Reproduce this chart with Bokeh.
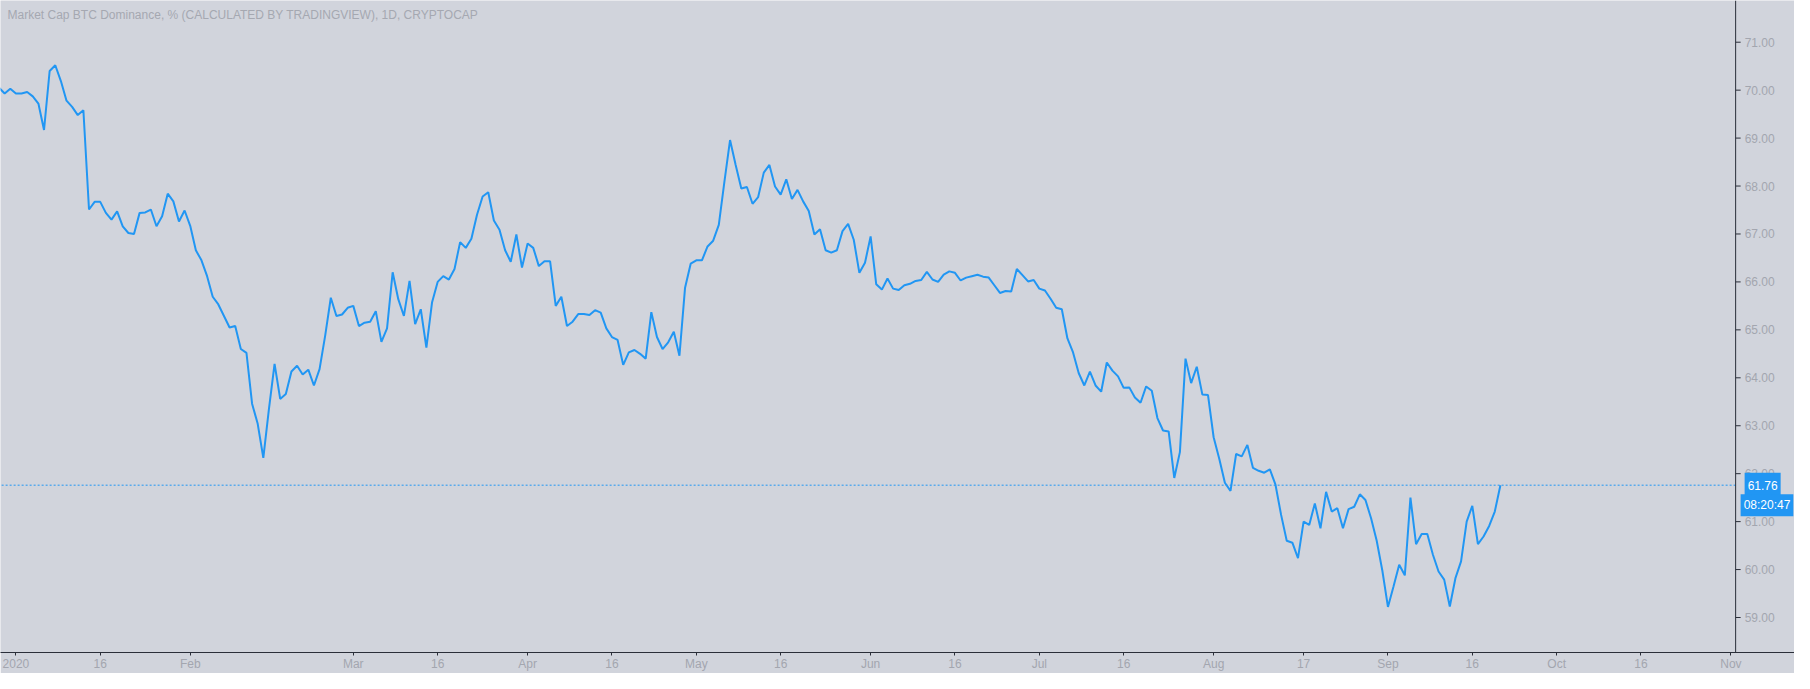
import math
import pandas as pd
from bokeh.plotting import figure
from bokeh.models import Range1d, FixedTicker, Span, Label
from bokeh.core.properties import value
from bokeh.embed import file_html
from bokeh.resources import INLINE

# ---------------- data ----------------
title_text = "Market Cap BTC Dominance, % (CALCULATED BY TRADINGVIEW), 1D, CRYPTOCAP"
start_date = "2019-12-29"

dec_2019 = [70.05, 69.93, 70.03]
jan = [69.93, 69.93, 69.96, 69.87, 69.72, 69.17, 70.40, 70.52, 70.19, 69.78,
       69.65, 69.48, 69.58, 67.51, 67.67, 67.67, 67.44, 67.30, 67.47, 67.16,
       67.02, 67.00, 67.44, 67.45, 67.51, 67.16, 67.37, 67.84, 67.68, 67.26,
       67.49]
feb = [67.17, 66.66, 66.45, 66.12, 65.69, 65.53, 65.29, 65.05, 65.08, 64.60,
       64.52, 63.46, 63.04, 62.33, 63.35, 64.29, 63.56, 63.66, 64.13, 64.25,
       64.07, 64.17, 63.84, 64.18, 64.88, 65.67, 65.29, 65.32, 65.46]
mar = [65.50, 65.08, 65.15, 65.17, 65.39, 64.75, 65.03, 66.20, 65.64, 65.29,
       66.02, 65.12, 65.43, 64.63, 65.57, 66.00, 66.12, 66.05, 66.27, 66.83,
       66.71, 66.90, 67.40, 67.78, 67.87, 67.28, 67.09, 66.66, 66.42, 66.99,
       66.30]
apr = [66.80, 66.71, 66.33, 66.43, 66.43, 65.50, 65.69, 65.08, 65.17, 65.33,
       65.33, 65.31, 65.41, 65.36, 65.03, 64.85, 64.79, 64.27, 64.53, 64.58,
       64.50, 64.40, 65.37, 64.85, 64.60, 64.74, 64.96, 64.46, 65.88, 66.38]
may = [66.45, 66.45, 66.74, 66.86, 67.19, 68.09, 68.96, 68.44, 67.95, 67.98,
       67.63, 67.77, 68.28, 68.44, 67.99, 67.82, 68.14, 67.73, 67.92, 67.68,
       67.48, 66.99, 67.10, 66.66, 66.61, 66.66, 67.06, 67.21, 66.88, 66.19,
       66.40]
jun = [66.95, 65.95, 65.84, 66.07, 65.86, 65.83, 65.93, 65.96, 66.02, 66.04,
       66.21, 66.05, 66.00, 66.15, 66.22, 66.19, 66.03, 66.09, 66.12, 66.15,
       66.11, 66.09, 65.93, 65.77, 65.81, 65.80, 66.27, 66.14, 66.01, 66.04]
jul = [65.86, 65.82, 65.65, 65.46, 65.43, 64.82, 64.53, 64.10, 63.84, 64.13,
       63.84, 63.71, 64.32, 64.15, 64.03, 63.79, 63.80, 63.59, 63.48, 63.82,
       63.73, 63.16, 62.90, 62.88, 61.91, 62.45, 64.40, 63.89, 64.23, 63.65,
       63.64]
aug = [62.76, 62.31, 61.81, 61.64, 62.41, 62.36, 62.60, 62.12, 62.06, 62.02,
       62.09, 61.77, 61.14, 60.60, 60.56, 60.24, 61.00, 60.93, 61.38, 60.86,
       61.62, 61.21, 61.28, 60.86, 61.26, 61.31, 61.57, 61.45, 61.07, 60.60,
       59.98]
sep = [59.22, 59.65, 60.10, 59.88, 61.50, 60.53, 60.74, 60.74, 60.31, 59.96,
       59.79, 59.23, 59.82, 60.17, 61.00, 61.33, 60.53, 60.69, 60.91, 61.21,
       61.76]

values = dec_2019 + jan + feb + mar + apr + may + jun + jul + aug + sep
countdown_text = "08:20:47"

tick_dates = ["2020-01-01", "2020-01-16", "2020-02-01", "2020-03-01", "2020-03-16",
              "2020-04-01", "2020-04-16", "2020-05-01", "2020-05-16", "2020-06-01",
              "2020-06-16", "2020-07-01", "2020-07-16", "2020-08-01", "2020-08-17",
              "2020-09-01", "2020-09-16", "2020-10-01", "2020-10-16", "2020-11-01"]
tick_labels = ["2020", "16", "Feb", "Mar", "16", "Apr", "16", "May", "16", "Jun",
               "16", "Jul", "16", "Aug", "17", "Sep", "16", "Oct", "16", "Nov"]
y_ticks = [59, 60, 61, 62, 63, 64, 65, 66, 67, 68, 69, 70, 71]
y_tick_labels = [f"{t:.2f}" for t in y_ticks]

# ---------------- build ----------------
origin = pd.Timestamp("2020-01-01")
dates = pd.date_range(start_date, periods=len(values), freq="D")
xs = [int((d - origin).days) for d in dates]
tick_x = [int((pd.Timestamp(t) - origin).days) for t in tick_dates]

BG = "#d1d4dc"
BLUE = "#2196f3"
AXIS = "#2a2e39"
TXT = "#a3a6af"
FONT = "Liberation Sans"

# view window (days since 2020-01-01 / percent)
x0, x1 = -2.74, 316.3
price_scale_x = 305.83          # position of the price scale line
y0, y1 = 58.27, 71.87

p = figure(width=1794, height=673, output_backend="svg", toolbar_location=None,
           x_range=Range1d(x0, x1), y_range=Range1d(y0, y1),
           y_axis_location=None,
           background_fill_color=BG, border_fill_color=BG, outline_line_color=None,
           min_border_left=0, min_border_top=0, min_border_right=0, min_border_bottom=18)
p.grid.visible = False

xa = p.xaxis[0]
xa.ticker = FixedTicker(ticks=tick_x)
xa.major_label_overrides = {t: l for t, l in zip(tick_x, tick_labels)}
xa.axis_line_color = AXIS
xa.axis_line_width = 1
xa.major_tick_line_color = AXIS
xa.major_tick_out = 3
xa.major_tick_in = 0
xa.minor_tick_line_color = None
xa.major_label_text_color = TXT
xa.major_label_text_font = FONT
xa.major_label_text_font_size = "12px"
xa.major_label_standoff = 1

# price scale (right side)
p.add_layout(Span(location=price_scale_x, dimension="height", line_color=AXIS, line_width=1))
p.ray(x=[price_scale_x] * len(y_ticks), y=y_ticks, length=5, length_units="screen",
      angle=0, line_color=AXIS, line_width=1)
p.text(x=[price_scale_x] * len(y_ticks), y=y_ticks, text=y_tick_labels, x_offset=9,
       text_baseline="middle", text_align="left", text_color=TXT,
       text_font=value(FONT), text_font_size="12px")

# series
p.line(xs, values, line_color=BLUE, line_width=2)

last = values[-1]
p.ray(x=[price_scale_x], y=[last], length=0, angle=math.pi,
      line_color=BLUE, line_width=1, line_dash="2 2")

p.add_layout(Label(x=price_scale_x, y=last, x_offset=9, text=f"{last:.2f}",
                   text_color="white", text_font=FONT, text_font_size="12px",
                   text_baseline="middle", text_align="left",
                   background_fill_color=BLUE, padding=(3, 8)))
p.add_layout(Label(x=price_scale_x, y=last, x_offset=5, y_offset=-20, text=countdown_text,
                   text_color="white", text_font=FONT, text_font_size="12px",
                   text_baseline="middle", text_align="left",
                   background_fill_color=BLUE, padding=(3, 4)))

p.add_layout(Label(x=x0, y=y1, x_offset=7, y_offset=-14, text=title_text,
                   text_color="#a5a8b1", text_font=FONT, text_font_size="12px",
                   text_baseline="alphabetic", text_align="left"))

open("out.html", "w").write(file_html(p, INLINE))
